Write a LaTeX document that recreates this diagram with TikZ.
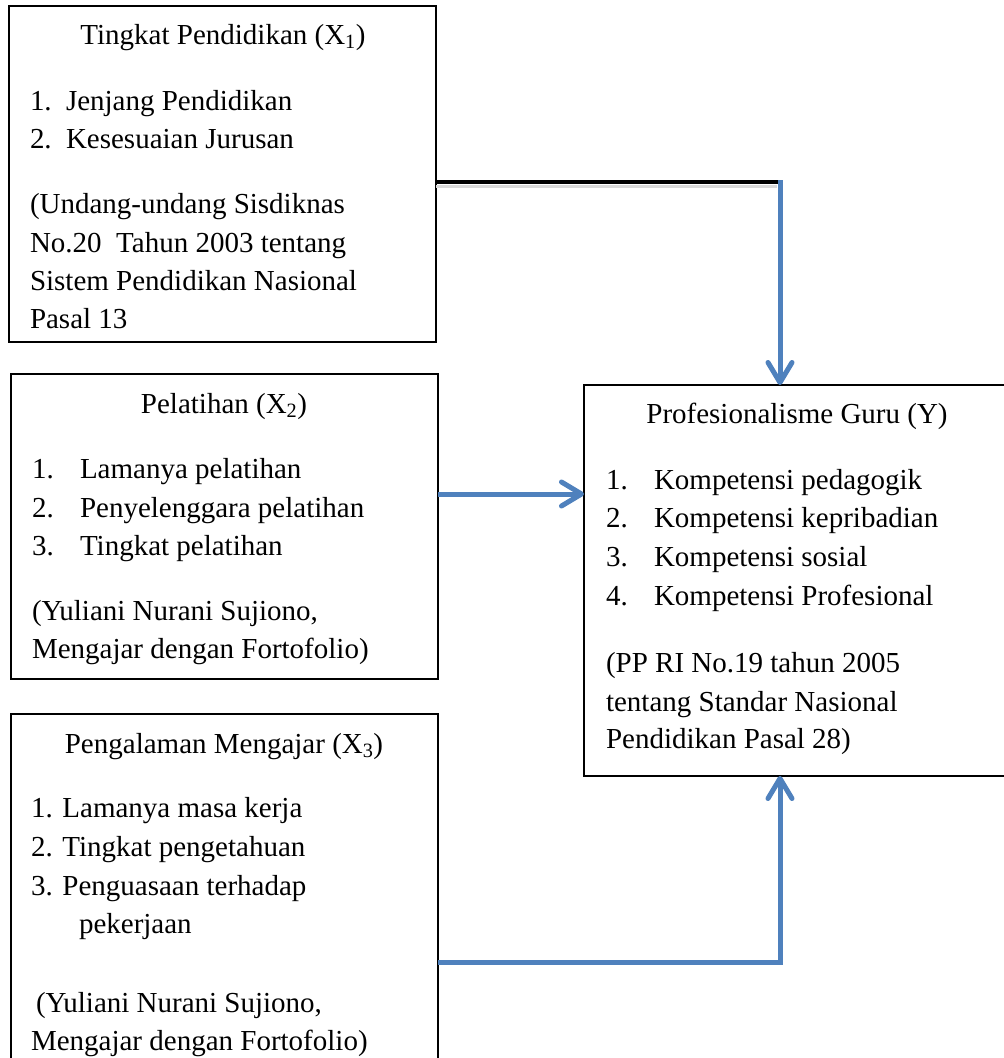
\documentclass[tikz,border=0pt]{standalone}
\usepackage{fontspec}
\setmainfont{Liberation Serif}
\usetikzlibrary{arrows.meta}
\definecolor{flowblue}{RGB}{79,129,189}
\begin{document}
\begin{tikzpicture}[x=1pt,y=-1pt,
  font=\fontsize{29}{38}\selectfont,
  box/.style={draw=black, line width=1.6pt, inner sep=0pt, outer sep=0pt},
  txt/.style={inner sep=0pt, outer sep=0pt, anchor=base west},
  ttl/.style={inner sep=0pt, outer sep=0pt, anchor=base},
  conn/.style={draw=flowblue, line width=5pt},
  arr/.style={conn, -{Straight Barb[length=20pt,width=24pt,round]}}]
\useasboundingbox (0,0) rectangle (1004,1058);
\clip (0,0) rectangle (1004,1058);
\fill[white] (0,0) rectangle (1004,1058);

% boxes
\node[box, minimum width=427pt, minimum height=336pt] (b1) at (222.5,174) {};
\node[box, minimum width=427pt, minimum height=305pt] (b2) at (224.5,526.5) {};
\node[box, minimum width=427pt, minimum height=376pt] (b3) at (224.5,902) {};
\node[box, minimum width=446pt, minimum height=391pt] (Y) at (807,580.5) {};

% box 1 text
\node[ttl] (t1) at (223,44) {Tingkat Pendidikan (X\textsubscript{1})};
\node[txt] (n11) at (30,110) {1.};
\node[txt] (i11) at (66,110) {Jenjang Pendidikan};
\node[txt] (n12) at (30,148) {2.};
\node[txt] (i12) at (66,148) {Kesesuaian Jurusan};
\node[txt] (r11) at (30,213) {(Undang-undang Sisdiknas};
\node[txt] (r12) at (30,252) {No.20\ \ Tahun 2003 tentang};
\node[txt] (r13) at (30,290) {Sistem Pendidikan Nasional};
\node[txt] (r14) at (30,328) {Pasal 13};

% box 2 text
\node[ttl] (t2) at (224,413) {Pelatihan (X\textsubscript{2})};
\node[txt] (n21) at (32,478) {1.};
\node[txt] (i21) at (80,478) {Lamanya pelatihan};
\node[txt] (n22) at (32,517) {2.};
\node[txt] (i22) at (80,517) {Penyelenggara pelatihan};
\node[txt] (n23) at (32,555) {3.};
\node[txt] (i23) at (80,555) {Tingkat pelatihan};
\node[txt] (r21) at (32,620) {(Yuliani Nurani Sujiono,};
\node[txt] (r22) at (32,658) {Mengajar dengan Fortofolio)};

% box Y text
\node[ttl] (ty) at (797,423) {Profesionalisme Guru (Y)};
\node[txt] (ny1) at (606,489) {1.};
\node[txt] (iy1) at (654,489) {Kompetensi pedagogik};
\node[txt] (ny2) at (606,527) {2.};
\node[txt] (iy2) at (654,527) {Kompetensi kepribadian};
\node[txt] (ny3) at (606,566) {3.};
\node[txt] (iy3) at (654,566) {Kompetensi sosial};
\node[txt] (ny4) at (606,605) {4.};
\node[txt] (iy4) at (654,605) {Kompetensi Profesional};
\node[txt] (ry1) at (606,672) {(PP RI No.19 tahun 2005};
\node[txt] (ry2) at (606,711) {tentang Standar Nasional};
\node[txt] (ry3) at (606,748) {Pendidikan Pasal 28)};

% box 3 text
\node[ttl] (t3) at (224,753) {Pengalaman Mengajar (X\textsubscript{3})};
\node[txt] (i31) at (31,817) {1. Lamanya masa kerja};
\node[txt] (i32) at (31,856) {2. Tingkat pengetahuan};
\node[txt] (i33) at (31,895) {3. Penguasaan terhadap};
\node[txt] (i34) at (79,933) {pekerjaan};
\node[txt] (r31) at (36,1012) {(Yuliani Nurani Sujiono,};
\node[txt] (r32) at (31,1050) {Mengajar dengan Fortofolio)};

% connectors
\coordinate (k1) at (780,182);
\coordinate (k2) at (500,494);
\coordinate (k3) at (780,962);
\draw[gray!30, line width=3pt] ([yshift=-4pt]b1.east |- k1) -- ([yshift=-4pt,xshift=-3pt]k1);
\draw[black, line width=4pt] (b1.east |- k1) -- ([xshift=-2pt]k1);
\draw[arr] ([yshift=2pt]k1) -- (Y.north -| k1);
\draw[arr] (b2.east |- k2) -- (Y.west |- k2);
\draw[arr] (b3.east |- k3) -- (k3) -- (Y.south -| k3);
\end{tikzpicture}
\end{document}
